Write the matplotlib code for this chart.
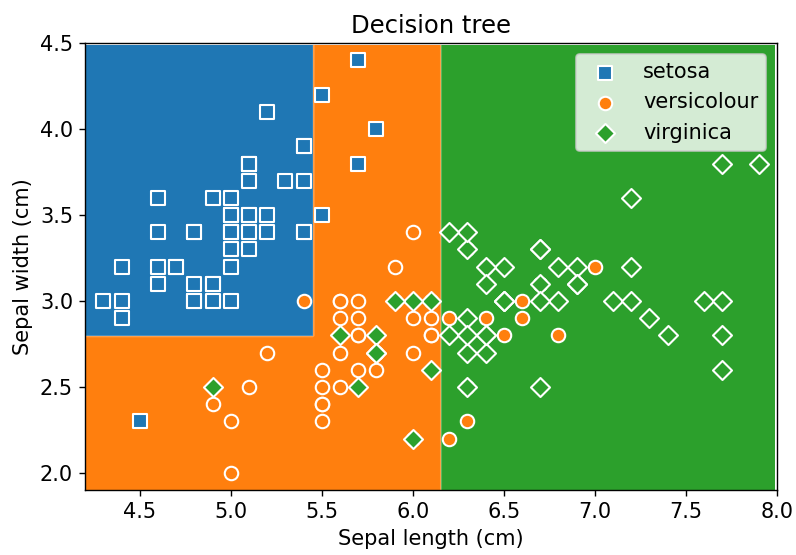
import numpy as np
import matplotlib.pyplot as plt

class_names = ['setosa', 'versicolour', 'virginica']
class_colors = ['#1f77b4', '#ff7f0e', '#2ca02c']
class_markers = ['s', 'o', 'D']

# sepal length / sepal width per class
setosa_len = [5.1, 4.9, 4.7, 4.6, 5.0, 5.4, 4.6, 5.0, 4.4, 4.9, 5.4, 4.8, 4.8, 4.3, 5.8, 5.7, 5.4,
              5.1, 5.7, 5.1, 5.4, 5.1, 4.6, 5.1, 4.8, 5.0, 5.0, 5.2, 5.2, 4.7, 4.8, 5.4, 5.2, 5.5,
              4.9, 5.0, 5.5, 4.9, 4.4, 5.1, 5.0, 4.5, 4.4, 5.0, 5.1, 4.8, 5.1, 4.6, 5.3, 5.0]
setosa_wid = [3.5, 3.0, 3.2, 3.1, 3.6, 3.9, 3.4, 3.4, 2.9, 3.1, 3.7, 3.4, 3.0, 3.0, 4.0, 4.4, 3.9,
              3.5, 3.8, 3.8, 3.4, 3.7, 3.6, 3.3, 3.4, 3.0, 3.4, 3.5, 3.4, 3.2, 3.1, 3.4, 4.1, 4.2,
              3.1, 3.2, 3.5, 3.6, 3.0, 3.4, 3.5, 2.3, 3.2, 3.5, 3.8, 3.0, 3.8, 3.2, 3.7, 3.3]
versi_len = [7.0, 6.4, 6.9, 5.5, 6.5, 5.7, 6.3, 4.9, 6.6, 5.2, 5.0, 5.9, 6.0, 6.1, 5.6, 6.7, 5.6,
             5.8, 6.2, 5.6, 5.9, 6.1, 6.3, 6.1, 6.4, 6.6, 6.8, 6.7, 6.0, 5.7, 5.5, 5.5, 5.8, 6.0,
             5.4, 6.0, 6.7, 6.3, 5.6, 5.5, 5.5, 6.1, 5.8, 5.0, 5.6, 5.7, 5.7, 6.2, 5.1, 5.7]
versi_wid = [3.2, 3.2, 3.1, 2.3, 2.8, 2.8, 3.3, 2.4, 2.9, 2.7, 2.0, 3.0, 2.2, 2.9, 2.9, 3.1, 3.0,
             2.7, 2.2, 2.5, 3.2, 2.8, 2.5, 2.8, 2.9, 3.0, 2.8, 3.0, 2.9, 2.6, 2.4, 2.4, 2.7, 2.7,
             3.0, 3.4, 3.1, 2.3, 3.0, 2.5, 2.6, 3.0, 2.6, 2.3, 2.7, 3.0, 2.9, 2.9, 2.5, 2.8]
virg_len = [6.3, 5.8, 7.1, 6.3, 6.5, 7.6, 4.9, 7.3, 6.7, 7.2, 6.5, 6.4, 6.8, 5.7, 5.8, 6.4, 6.5,
            7.7, 7.7, 6.0, 6.9, 5.6, 7.7, 6.3, 6.7, 7.2, 6.2, 6.1, 6.4, 7.2, 7.4, 7.9, 6.4, 6.3,
            6.1, 7.7, 6.3, 6.4, 6.0, 6.9, 6.7, 6.9, 5.8, 6.8, 6.7, 6.7, 6.3, 6.5, 6.2, 5.9]
virg_wid = [3.3, 2.7, 3.0, 2.9, 3.0, 3.0, 2.5, 2.9, 2.5, 3.6, 3.2, 2.7, 3.0, 2.5, 2.8, 3.2, 3.0,
            3.8, 2.6, 2.2, 3.2, 2.8, 2.8, 2.7, 3.3, 3.2, 2.8, 3.0, 2.8, 3.0, 2.8, 3.8, 2.8, 2.8,
            2.6, 3.0, 3.4, 3.1, 3.0, 3.1, 3.1, 3.1, 2.7, 3.2, 3.3, 3.0, 2.5, 3.0, 3.4, 3.0]

# split points of the fitted tree
len_split_1 = 5.45
wid_split = 2.8
len_split_2 = 6.15


def predict(sl, sw):
    out = np.where(sl < len_split_2, 1, 2)
    out = np.where((sl < len_split_1) & (sw >= wid_split), 0, out)
    return out


xx, yy = np.meshgrid(np.arange(4.2, 8.0, 0.01), np.arange(1.9, 4.5, 0.01))
zz = predict(xx, yy)

fig, ax = plt.subplots(figsize=(6.368, 4.44), dpi=125)
fig.subplots_adjust(left=0.107, right=0.976, top=0.922, bottom=0.117)
ax.contourf(xx, yy, zz, levels=[-0.5, 0.5, 1.5, 2.5], colors=class_colors)
# faint seams along the region borders
ax.contour(xx, yy, zz, levels=[0.5, 1.5], colors='white', alpha=0.25, linewidths=1.2)

data = [(setosa_len, setosa_wid), (versi_len, versi_wid), (virg_len, virg_wid)]
for i in range(3):
    ax.scatter(data[i][0], data[i][1], c=class_colors[i], marker=class_markers[i],
               s=60, edgecolors='white', linewidths=1.2, label=class_names[i])

ax.set_xlim(4.2, 8.0)
ax.set_ylim(1.9, 4.5)
ax.set_title("Decision tree", fontsize=14)
ax.set_xlabel("Sepal length (cm)", fontsize=12)
ax.set_ylabel("Sepal width (cm)", fontsize=12)
ax.tick_params(labelsize=12)
ax.legend(loc='upper right', fontsize=12)
plt.savefig('out.png')
